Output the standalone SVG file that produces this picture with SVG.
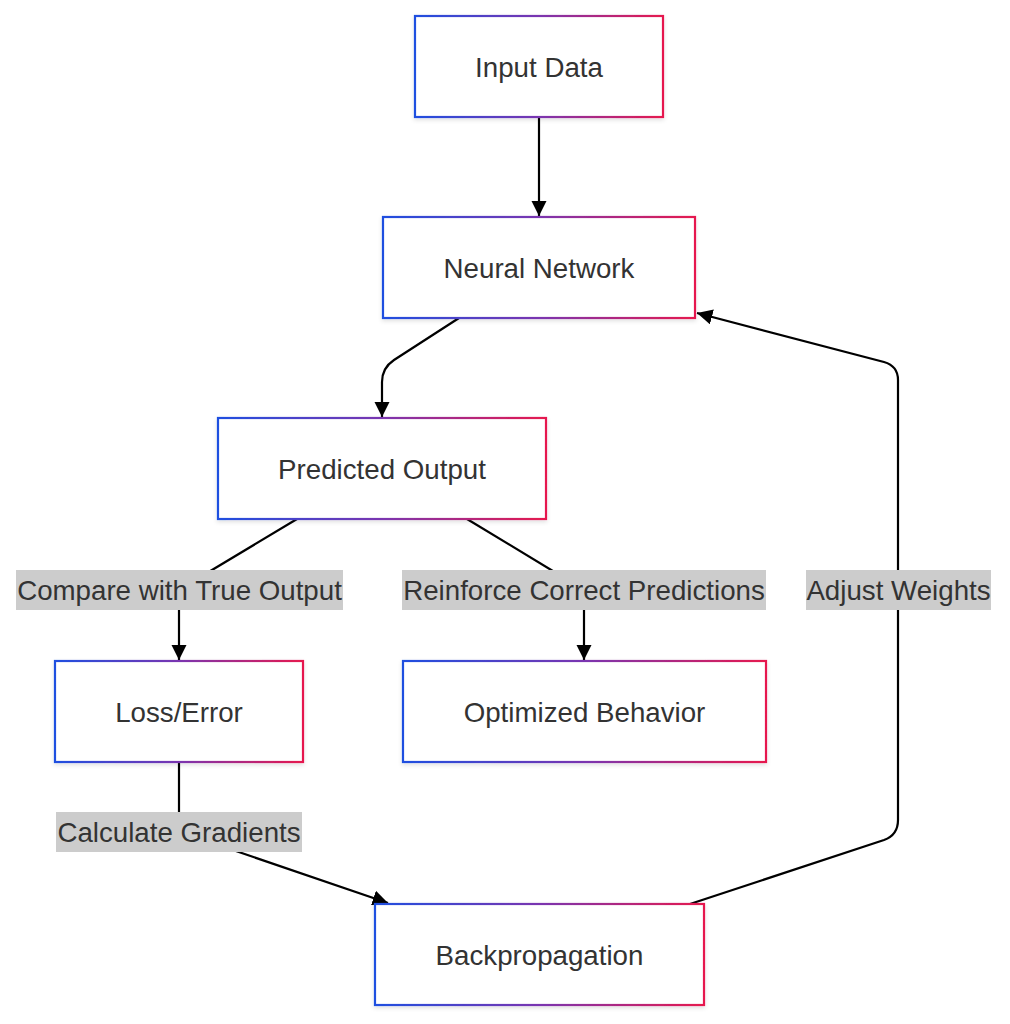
<svg xmlns="http://www.w3.org/2000/svg" width="1010" height="1024" viewBox="0 0 1010 1024">
<style>
.node rect{fill:#ffffff;stroke:url(#grad);stroke-width:2.2;filter:url(#shadow)}
.node text,.lbl text{font-family:"Liberation Sans",Arial,sans-serif;font-size:27.7px;fill:#333333;text-anchor:middle;dominant-baseline:central}
.edge{fill:none;stroke:#000000;stroke-width:2.2}
.lbl rect{fill:#cccccc}
</style>
<defs>
<linearGradient id="grad" x1="0" y1="0" x2="1" y2="0">
<stop offset="0" stop-color="#1f4fe0"/>
<stop offset="0.5" stop-color="#7a35b0"/>
<stop offset="1" stop-color="#e6194e"/>
</linearGradient>
<filter id="shadow" x="-10%" y="-10%" width="120%" height="130%">
<feDropShadow dx="0" dy="2" stdDeviation="2" flood-color="#000000" flood-opacity="0.12"/>
</filter>
<marker id="arrow" viewBox="0 0 10 10" refX="10" refY="5" markerWidth="7" markerHeight="7" markerUnits="strokeWidth" orient="auto">
<path d="M0,0 L10,5 L0,10 z" fill="#000000"/>
</marker>
</defs>
<g id="connectors">
<path class="edge" d="M539,117 L539,216" marker-end="url(#arrow)"/>
<path class="edge" d="M459,318 L394,360 Q382,368 382,382 L382,417" marker-end="url(#arrow)"/>
<path class="edge" d="M297,519 L192,582 Q179,590 179,605 L179,660" marker-end="url(#arrow)"/>
<path class="edge" d="M467,519 L571,582 Q584,590 584,605 L584,660" marker-end="url(#arrow)"/>
<path class="edge" d="M179,762 L179,826 Q180,832 186,834 L388,903" marker-end="url(#arrow)"/>
<path class="edge" d="M690,904 L884,840 Q898,835 898,820 L898,380 Q898,366 884,362 L697,313" marker-end="url(#arrow)"/>
</g>
<g id="edge-labels">
<g class="lbl" id="label-compare"><rect x="16" y="570" width="327" height="40"/><text x="179.5" y="590">Compare with True Output</text></g>
<g class="lbl" id="label-reinforce"><rect x="402" y="570" width="364" height="40"/><text x="584" y="590">Reinforce Correct Predictions</text></g>
<g class="lbl" id="label-adjust"><rect x="806" y="570" width="185" height="40"/><text x="898.5" y="590">Adjust Weights</text></g>
<g class="lbl" id="label-calc"><rect x="56" y="812" width="246" height="40"/><text x="179" y="832">Calculate Gradients</text></g>
</g>
<g class="node" id="node-input"><rect x="415" y="16" width="248" height="101"/><text x="539" y="67">Input Data</text></g>
<g class="node" id="node-neural"><rect x="383" y="217" width="312" height="101"/><text x="539" y="268">Neural Network</text></g>
<g class="node" id="node-predicted"><rect x="218" y="418" width="328" height="101"/><text x="382" y="469">Predicted Output</text></g>
<g class="node" id="node-loss"><rect x="55" y="661" width="248" height="101"/><text x="179" y="712">Loss/Error</text></g>
<g class="node" id="node-optimized"><rect x="403" y="661" width="363" height="101"/><text x="584.5" y="712">Optimized Behavior</text></g>
<g class="node" id="node-backprop"><rect x="375" y="904" width="329" height="101"/><text x="539.5" y="955">Backpropagation</text></g>
</svg>
